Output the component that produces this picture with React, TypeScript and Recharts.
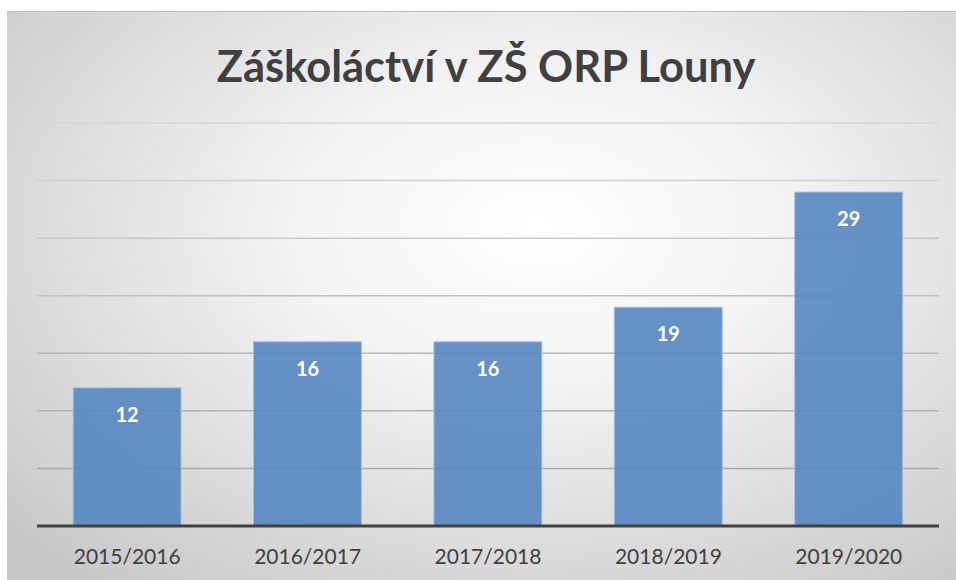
import React from "react";
import { BarChart, Bar, XAxis, YAxis, CartesianGrid, LabelList } from "recharts";

const categories = ["2015/2016", "2016/2017", "2017/2018", "2018/2019", "2019/2020"];
const values = [12, 16, 16, 19, 29];
const yTicks = [0, 5, 10, 15, 20, 25, 30, 35];
const title = "Záškoláctví v ZŠ ORP Louny";

const data = categories.map((c, i) => ({ name: c, value: values[i] }));

export default function App() {
  return (
    <div style={{ position: "absolute", left: 0, top: 0, width: 956, height: 580, background: "#ffffff", overflow: "hidden" }}>
      <div
        style={{
          position: "absolute",
          left: 7,
          top: 11,
          width: 949,
          height: 569,
          background: "radial-gradient(ellipse 75% 80% at 56% 38%, #ffffff 0%, #f3f3f3 35%, #dcdcdc 70%, #c8c8c8 100%)",
          borderTop: "1px solid #bdbdbd",
          boxSizing: "border-box",
        }}
      >
        <div
          style={{
            position: "absolute",
            left: 0,
            top: 27,
            width: 958,
            textAlign: "center",
            fontFamily: "Lato, sans-serif",
            fontWeight: 700,
            fontSize: 43.5,
            color: "#404040",
            lineHeight: "52px",
          }}
        >
          {title}
        </div>
        <BarChart
          width={949}
          height={568}
          data={data}
          margin={{ top: 111, right: 17, bottom: 0, left: 30 }}
          barCategoryGap="20%"
        >
          <defs>
            <linearGradient id="gridGrad" gradientUnits="userSpaceOnUse" x1="0" y1="100" x2="0" y2="470">
              <stop offset="0%" stopColor="#d8d8d8" />
              <stop offset="100%" stopColor="#a8a8a8" />
            </linearGradient>
          </defs>
          <CartesianGrid vertical={false} stroke="url(#gridGrad)" strokeWidth={1.5} />
          <YAxis hide domain={[0, 35]} ticks={yTicks} />
          <XAxis
            dataKey="name"
            height={54}
            axisLine={{ stroke: "#404040", strokeWidth: 3 }}
            tickLine={false}
            tickMargin={17}
            tick={{ fill: "#404040", fontSize: 21, fontFamily: "Lato, sans-serif" }}
          />
          <Bar dataKey="value" fill="#5786c0" fillOpacity={0.9} stroke="#a9c1e2" strokeWidth={1} isAnimationActive={false}>
            <LabelList
              dataKey="value"
              position="insideTop"
              offset={20}
              fill="#ffffff"
              style={{ fontFamily: "Lato, sans-serif", fontWeight: 700, fontSize: 20 }}
            />
          </Bar>
        </BarChart>
      </div>
    </div>
  );
}
